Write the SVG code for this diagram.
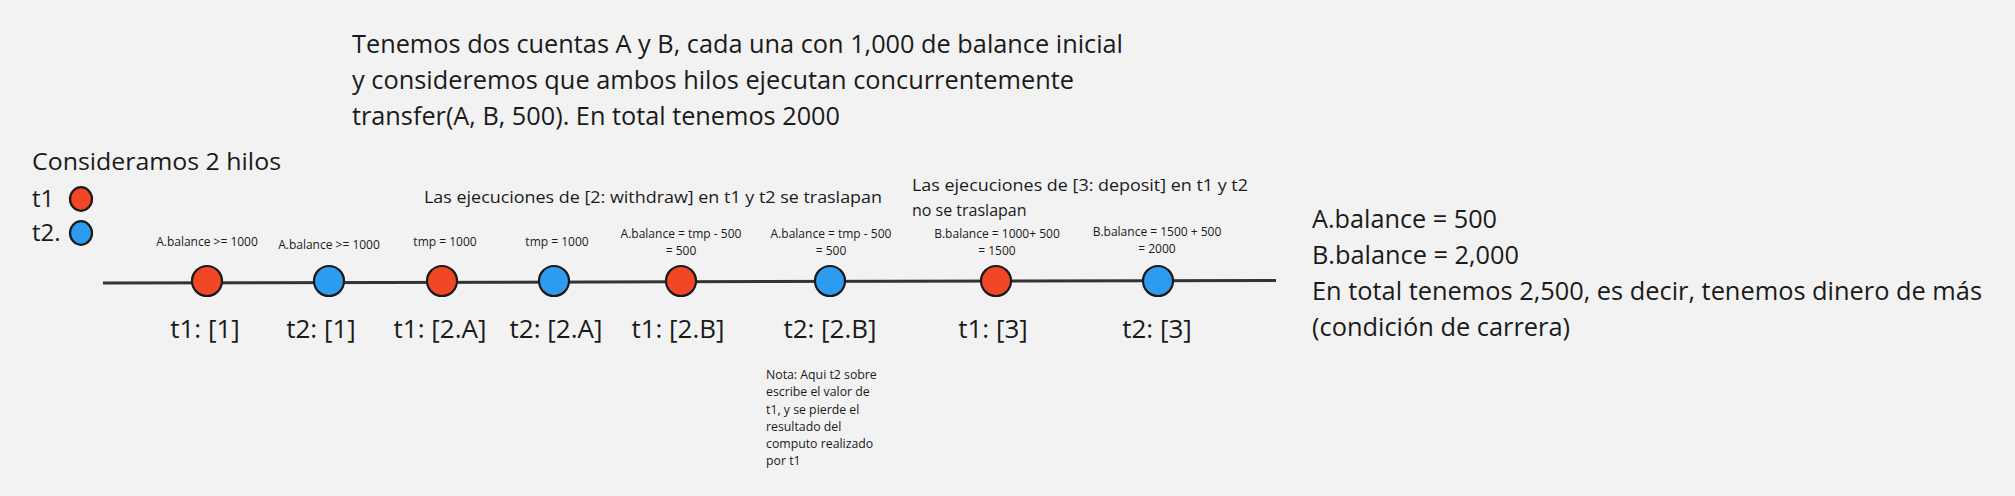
<svg xmlns="http://www.w3.org/2000/svg" width="2015" height="496" viewBox="0 0 2015 496">
<style>
text{font-family:"Open Sans","Noto Sans","Liberation Sans",sans-serif;fill:#1a1a1a}
.big{font-size:25px}
.lbl{font-size:26px;text-anchor:middle}
.sm{font-size:12px;text-anchor:middle}
.mid{font-size:16px}
.note{font-size:12.3px}
.red{fill:#f24726;stroke:#1a1a1a;stroke-width:2.2}
.blue{fill:#2d9bf0;stroke:#1a1a1a;stroke-width:2.2}
</style>
<rect width="2015" height="496" fill="#f2f2f2"/>
<g id="intro">
<text class="big" x="352" y="53" textLength="771" lengthAdjust="spacingAndGlyphs">Tenemos dos cuentas A y B, cada una con 1,000 de balance inicial</text>
<text class="big" x="352" y="89" textLength="722" lengthAdjust="spacingAndGlyphs">y consideremos que ambos hilos ejecutan concurrentemente</text>
<text class="big" x="352" y="125" textLength="488" lengthAdjust="spacingAndGlyphs">transfer(A, B, 500). En total tenemos 2000</text>
</g>
<g id="legend">
<text x="32" y="170" style="font-size:24px" textLength="249" lengthAdjust="spacingAndGlyphs">Consideramos 2 hilos</text>
<text x="32" y="207" style="font-size:24px">t1</text>
<ellipse class="red" cx="81" cy="199" rx="11" ry="11.8"/>
<text x="32" y="241" style="font-size:24px">t2.</text>
<ellipse class="blue" cx="81" cy="233" rx="11" ry="11.8"/>
</g>
<g id="overlap-notes">
<text class="mid" x="424" y="203" textLength="458" lengthAdjust="spacingAndGlyphs">Las ejecuciones de [2: withdraw] en t1 y t2 se traslapan</text>
<text class="mid" x="912" y="191" textLength="336" lengthAdjust="spacingAndGlyphs">Las ejecuciones de [3: deposit] en t1 y t2</text>
<text class="mid" x="912" y="216">no se traslapan</text>
</g>
<g id="connectors">
<line x1="103" y1="283" x2="1276" y2="280.5" stroke="#333" stroke-width="3"/>
</g>
<g id="n1">
<text class="sm" x="207" y="246">A.balance &gt;= 1000</text>
<circle class="red" cx="207" cy="281" r="15"/>
<text class="lbl" x="205" y="338">t1: [1]</text>
</g>
<g id="n2">
<text class="sm" x="329" y="249">A.balance &gt;= 1000</text>
<circle class="blue" cx="329" cy="281" r="15"/>
<text class="lbl" x="321" y="338">t2: [1]</text>
</g>
<g id="n3">
<text class="sm" x="445" y="246">tmp = 1000</text>
<circle class="red" cx="442" cy="281" r="15"/>
<text class="lbl" x="440" y="338">t1: [2.A]</text>
</g>
<g id="n4">
<text class="sm" x="557" y="246">tmp = 1000</text>
<circle class="blue" cx="554" cy="281" r="15"/>
<text class="lbl" x="556" y="338">t2: [2.A]</text>
</g>
<g id="n5">
<text class="sm" x="681" y="238">A.balance = tmp - 500</text>
<text class="sm" x="681" y="255">= 500</text>
<circle class="red" cx="681" cy="281" r="15"/>
<text class="lbl" x="678" y="338">t1: [2.B]</text>
</g>
<g id="n6">
<text class="sm" x="831" y="238">A.balance = tmp - 500</text>
<text class="sm" x="831" y="255">= 500</text>
<circle class="blue" cx="830" cy="281" r="15"/>
<text class="lbl" x="830" y="338">t2: [2.B]</text>
</g>
<g id="n7">
<text class="sm" x="997" y="238">B.balance = 1000+ 500</text>
<text class="sm" x="997" y="255">= 1500</text>
<circle class="red" cx="996" cy="281" r="15"/>
<text class="lbl" x="993" y="338">t1: [3]</text>
</g>
<g id="n8">
<text class="sm" x="1157" y="236">B.balance = 1500 + 500</text>
<text class="sm" x="1157" y="253">= 2000</text>
<circle class="blue" cx="1158" cy="281" r="15"/>
<text class="lbl" x="1157" y="338">t2: [3]</text>
</g>
<g id="note">
<text class="note" x="766" y="379">Nota: Aqui t2 sobre</text>
<text class="note" x="766" y="396">escribe el valor de</text>
<text class="note" x="766" y="414">t1, y se pierde el</text>
<text class="note" x="766" y="431">resultado del</text>
<text class="note" x="766" y="448">computo realizado</text>
<text class="note" x="766" y="465">por t1</text>
</g>
<g id="result">
<text class="big" x="1312" y="228" textLength="185" lengthAdjust="spacingAndGlyphs">A.balance = 500</text>
<text class="big" x="1312" y="264" textLength="207" lengthAdjust="spacingAndGlyphs">B.balance = 2,000</text>
<text class="big" x="1312" y="300" textLength="670" lengthAdjust="spacingAndGlyphs">En total tenemos 2,500, es decir, tenemos dinero de más</text>
<text class="big" x="1312" y="336" textLength="258" lengthAdjust="spacingAndGlyphs">(condición de carrera)</text>
</g>
</svg>
